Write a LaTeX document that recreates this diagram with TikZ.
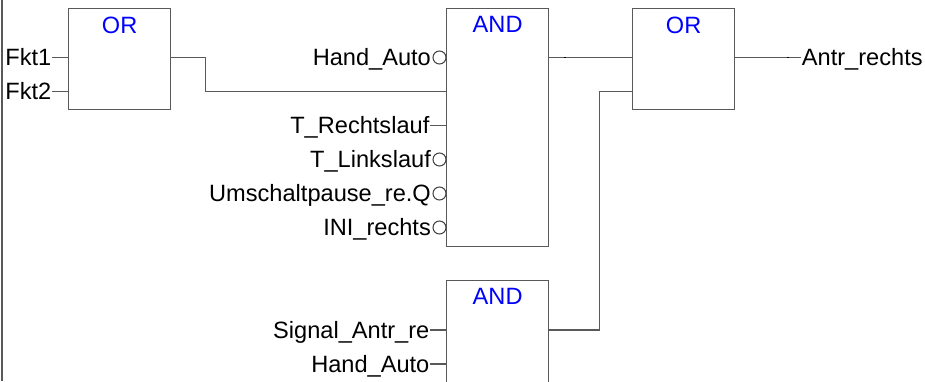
\documentclass[tikz,border=0pt]{standalone}
\usepackage{fontspec}
\setmainfont{Liberation Sans}
\usetikzlibrary{calc}

\begin{document}
\begin{tikzpicture}[x=1pt, y=-1pt, line width=1.3pt, font=\fontsize{23.6}{24}\selectfont]
	\tikzstyle{wireStyle}=[draw=black!65]
	\tikzstyle{blockStyle}=[draw=black!65, rectangle, anchor=north west, minimum width=102pt, inner sep=0pt]
	\tikzstyle{titleStyle}=[text=blue, anchor=north, inner sep=0pt, text height=16.8pt, text depth=0pt]
	\tikzstyle{pinStyle}=[anchor=east, inner sep=0pt, text height=16.8pt, text depth=0pt]
	\tikzstyle{negStyle}=[draw=black!75, circle, minimum size=13pt, inner sep=0pt, line width=1pt]
	\tikzstyle{tickStyle}=[draw=black, line width=1.6pt]
	\useasboundingbox (0,0) rectangle (925,381);
	\clip (0,0) rectangle (925,381);
	% left rail
	\draw[wireStyle, line width=2pt] (2,0) -- (2,381);
	% blocks
	\node[blockStyle, minimum height=101pt] (or1) at (68,7.5) {};
	\node[blockStyle, minimum height=238pt] (and1) at (446,7.5) {};
	\node[blockStyle, minimum height=101pt] (or2) at (632,7.5) {};
	\node[blockStyle, minimum height=238pt] (and2) at (446,280) {};
	\node[titleStyle] (or1t) at ([yshift=-8.5pt]or1.north) {OR};
	\node[titleStyle] (and1t) at ([yshift=-8pt]and1.north) {AND};
	\node[titleStyle] (or2t) at ([yshift=-8.5pt]or2.north) {OR};
	\node[titleStyle] (and2t) at ([yshift=-7.5pt]and2.north) {AND};
	% pins
	\coordinate (or1i1) at ($(or1.north west)+(0,50)$);
	\coordinate (or1i2) at ($(or1.north west)+(0,84)$);
	\coordinate (or1o) at ($(or1.north east)+(0,50)$);
	\coordinate (and1i1) at ($(and1.north west)+(0,50)$);
	\coordinate (and1i2) at ($(and1.north west)+(0,84)$);
	\coordinate (and1i3) at ($(and1.north west)+(0,118)$);
	\coordinate (and1i4) at ($(and1.north west)+(0,152)$);
	\coordinate (and1i5) at ($(and1.north west)+(0,186)$);
	\coordinate (and1i6) at ($(and1.north west)+(0,220)$);
	\coordinate (and1o) at ($(and1.north east)+(0,50)$);
	\coordinate (or2i1) at ($(or2.north west)+(0,50)$);
	\coordinate (or2i2) at ($(or2.north west)+(0,84)$);
	\coordinate (or2o) at ($(or2.north east)+(0,50)$);
	\coordinate (and2i1) at ($(and2.north west)+(0,50)$);
	\coordinate (and2i2) at ($(and2.north west)+(0,84)$);
	\coordinate (and2o) at ($(and2.north east)+(0,50)$);
	% OR 1 inputs
	\node[pinStyle] (fkt1) at ($(or1i1)+(-16,0)$) {Fkt1};
	\node[pinStyle] (fkt2) at ($(or1i2)+(-16,0)$) {Fkt2};
	\draw[wireStyle] (fkt1) -- (or1i1);
	\draw[wireStyle] (fkt2) -- (or1i2);
	% AND 1 inputs
	\node[negStyle] (and1n1) at ($(and1i1)+(-6.5,0)$) {};
	\node[pinStyle] (handauto1) at ([xshift=-1pt]and1n1.west) {Hand\_Auto};
	\node[pinStyle] (trechts) at ($(and1i3)+(-16,0)$) {T\_Rechtslauf};
	\draw[wireStyle] (trechts) -- (and1i3);
	\node[negStyle] (and1n4) at ($(and1i4)+(-6.5,0)$) {};
	\node[pinStyle] (tlinks) at ([xshift=-1pt]and1n4.west) {T\_Linkslauf};
	\node[negStyle] (and1n5) at ($(and1i5)+(-6.5,0)$) {};
	\node[pinStyle] (umschalt) at ([xshift=-1pt]and1n5.west) {Umschaltpause\_re.Q};
	\node[negStyle] (and1n6) at ($(and1i6)+(-6.5,0)$) {};
	\node[pinStyle] (inirechts) at ([xshift=-1pt]and1n6.west) {INI\_rechts};
	% AND 2 inputs
	\node[pinStyle] (signal) at ($(and2i1)+(-16,0)$) {Signal\_Antr\_re};
	\node[pinStyle] (handauto2) at ($(and2i2)+(-16,0)$) {Hand\_Auto};
	\draw[wireStyle] (signal) -- (and2i1);
	\draw[wireStyle] (handauto2) -- (and2i2);
	% connections
	\draw[wireStyle] (or1o) -- ++(34,0) |- (and1i2);
	\draw[wireStyle] (and1o) -- (or2i1);
	\draw[wireStyle] (and2o) -- ++(50,0) |- (or2i2);
	\node[pinStyle, anchor=west] (antr) at ($(or2o)+(66,0)$) {Antr\_rechts};
	\draw[wireStyle] (or2o) -- (antr);
	\draw[tickStyle] ($(and1o)+(15,0)$) -- ++(2,0);
	\draw[tickStyle] ($(or2o)+(52,0)$) -- ++(2,0);
\end{tikzpicture}
\end{document}
